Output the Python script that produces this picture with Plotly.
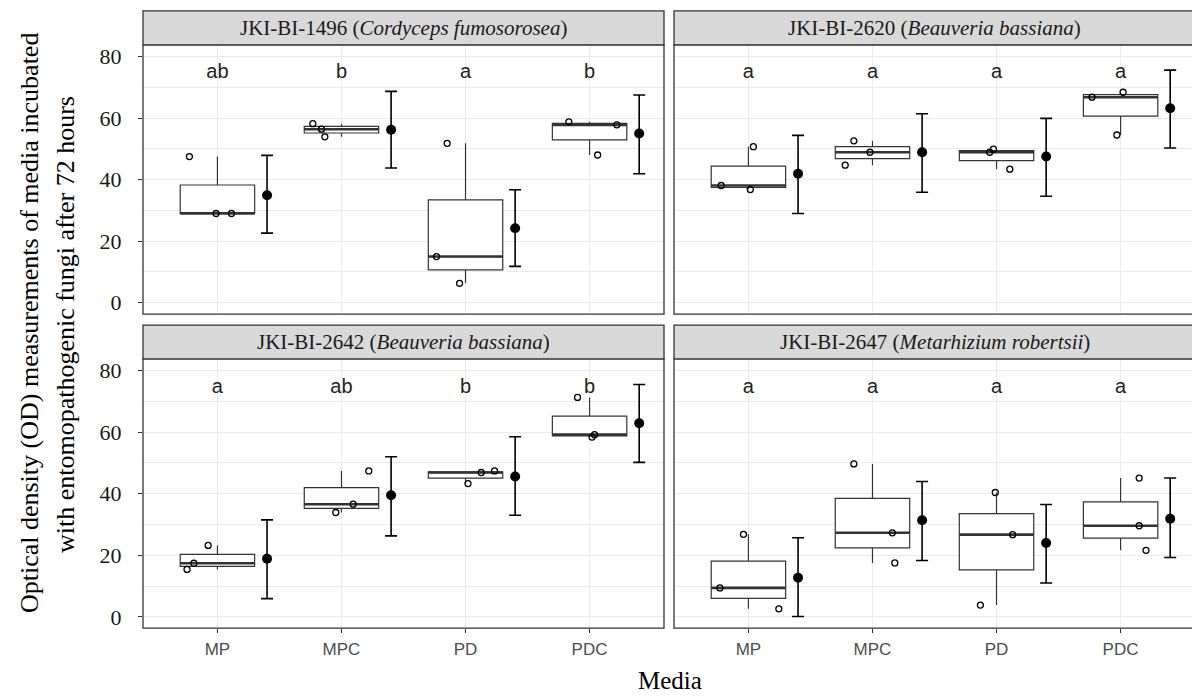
import numpy as np
import plotly.graph_objects as go

# ---- data -------------------------------------------------------------
media = ["MP", "MPC", "PD", "PDC"]

strain_ids = ["JKI-BI-1496", "JKI-BI-2620", "JKI-BI-2642", "JKI-BI-2647"]
species = ["Cordyceps fumosorosea", "Beauveria bassiana",
           "Beauveria bassiana", "Metarhizium robertsii"]

# OD replicate measurements (3 per medium), one list per strain
od_1496 = [[47.5, 29.0, 29.0], [58.2, 56.4, 53.9], [51.8, 15.0, 6.3], [58.8, 57.8, 48.0]]
od_2620 = [[50.7, 38.1, 36.8], [52.6, 48.9, 44.7], [49.9, 48.9, 43.4], [68.4, 66.8, 54.5]]
od_2642 = [[23.2, 17.4, 15.4], [47.4, 36.6, 33.9], [47.4, 46.9, 43.3], [71.3, 59.2, 58.4]]
od_2647 = [[26.8, 9.4, 2.6], [49.7, 27.3, 17.5], [40.4, 26.7, 3.8], [45.1, 29.6, 21.6]]

# horizontal jitter of the replicate points (category units)
jitter_1496 = [[-0.226, -0.011, 0.113], [-0.231, -0.161, -0.134], [-0.148, -0.234, -0.048], [-0.167, 0.22, 0.065]]
jitter_2620 = [[0.04, -0.22, 0.015], [-0.15, -0.02, -0.22], [-0.025, -0.055, 0.107], [0.02, -0.23, -0.03]]
jitter_2642 = [[-0.075, -0.19, -0.245], [0.22, 0.094, -0.046], [0.234, 0.126, 0.02], [-0.097, 0.04, 0.02]]
jitter_2647 = [[-0.04, -0.23, 0.245], [-0.15, 0.16, 0.18], [-0.01, 0.13, -0.13], [0.15, 0.15, 0.205]]

# estimated marginal means with confidence limits
mean_1496 = [34.9, 56.2, 24.2, 55.0]
lower_1496 = [22.6, 43.8, 11.8, 41.9]
upper_1496 = [47.9, 68.7, 36.7, 67.5]

mean_2620 = [41.9, 48.9, 47.5, 63.2]
lower_2620 = [29.0, 35.9, 34.6, 50.3]
upper_2620 = [54.4, 61.4, 59.9, 75.6]

mean_2642 = [18.9, 39.5, 45.6, 62.9]
lower_2642 = [5.9, 26.3, 33.0, 50.2]
upper_2642 = [31.5, 52.0, 58.5, 75.5]

mean_2647 = [12.7, 31.4, 24.0, 31.9]
lower_2647 = [0.1, 18.3, 11.0, 19.3]
upper_2647 = [25.7, 44.0, 36.5, 45.1]

# compact letter display
letters_1496 = ["ab", "b", "a", "b"]
letters_2620 = ["a", "a", "a", "a"]
letters_2642 = ["a", "ab", "b", "b"]
letters_2647 = ["a", "a", "a", "a"]
letter_y = 74.5

y_ticks = [0, 20, 40, 60, 80]

panels = [
    (od_1496, jitter_1496, mean_1496, lower_1496, upper_1496, letters_1496),
    (od_2620, jitter_2620, mean_2620, lower_2620, upper_2620, letters_2620),
    (od_2642, jitter_2642, mean_2642, lower_2642, upper_2642, letters_2642),
    (od_2647, jitter_2647, mean_2647, lower_2647, upper_2647, letters_2647),
]

# ---- styling ----------------------------------------------------------
W, H = 1192, 697
SERIF = "Liberation Serif, Times New Roman, serif"
SANS = "Liberation Sans, Arial, sans-serif"
DARK = "#333333"
GRID = "#EBEBEB"
STRIP_FILL = "#D9D9D9"

px_per_unit = 521 / 4.2
left_dom = [143 / W, 664 / W]
right_dom = [674 / W, 1.0]
right_range = [0.4, 0.4 + (W - 674) / px_per_unit]
top_dom = [(H - 314) / H, (H - 44) / H]
bot_dom = [(H - 629) / H, (H - 359) / H]
y_range = [-3.7, 83.8]
panel_h = 270
strip_h = 34

positions = np.arange(1, len(media) + 1)
box_half = 0.3
mean_offset = 0.4

fig = go.Figure()

for k, (od, jit, mu, lo, hi, lets) in enumerate(panels):
    suffix = "" if k == 0 else str(k + 1)
    xa, ya = "x" + suffix, "y" + suffix
    for i, pos in enumerate(positions):
        vals = np.array(od[i])
        fig.add_trace(go.Box(
            x=[pos] * len(vals), y=vals, xaxis=xa, yaxis=ya,
            width=2 * box_half, boxpoints=False, whiskerwidth=0,
            quartilemethod="inclusive", fillcolor="white",
            line=dict(color=DARK, width=1.2), showlegend=False,
            hoverinfo="skip"))
        med = float(np.median(vals))
        fig.add_trace(go.Scatter(
            x=[pos - box_half, pos + box_half], y=[med, med],
            xaxis=xa, yaxis=ya, mode="lines",
            line=dict(color=DARK, width=2.6), showlegend=False,
            hoverinfo="skip"))
        fig.add_trace(go.Scatter(
            x=pos + np.array(jit[i]), y=vals, xaxis=xa, yaxis=ya,
            mode="markers",
            marker=dict(symbol="circle-open", size=6, color="black",
                        line=dict(width=1.3, color="black")),
            showlegend=False, hoverinfo="skip"))
    mu_a, lo_a, hi_a = np.array(mu), np.array(lo), np.array(hi)
    fig.add_trace(go.Scatter(
        x=positions + mean_offset, y=mu_a, xaxis=xa, yaxis=ya,
        mode="markers", marker=dict(size=10, color="black"),
        error_y=dict(type="data", symmetric=False, array=hi_a - mu_a,
                     arrayminus=mu_a - lo_a, width=6, thickness=1.6,
                     color="black"),
        showlegend=False, hoverinfo="skip"))
    fig.add_trace(go.Scatter(
        x=positions, y=[letter_y] * len(positions), xaxis=xa, yaxis=ya,
        mode="text", text=lets, textposition="middle center",
        textfont=dict(family=SANS, size=20, color="#222222"),
        showlegend=False, hoverinfo="skip"))

# ---- axes -------------------------------------------------------------
def x_axis(domain, rng, anchor, bottom):
    return dict(
        domain=domain, range=rng, anchor=anchor,
        tickmode="array", tickvals=list(positions), ticktext=media,
        showticklabels=bottom, ticks="outside" if bottom else "",
        ticklen=4, tickwidth=1.1, tickcolor=DARK,
        tickfont=dict(family=SANS, size=17, color="#4D4D4D"),
        ticklabelstandoff=1,
        showgrid=True, gridcolor=GRID, gridwidth=1.1,
        zeroline=False, showline=False, fixedrange=True)


def y_axis(domain, anchor, left):
    return dict(
        domain=domain, range=y_range, anchor=anchor,
        tickmode="array", tickvals=y_ticks,
        showticklabels=left, ticks="outside" if left else "",
        ticklen=4, tickwidth=1.1, tickcolor=DARK,
        tickfont=dict(family=SERIF, size=22, color="#1A1A1A"),
        ticklabelstandoff=12,
        showgrid=True, gridcolor=GRID, gridwidth=1.1,
        minor=dict(tickvals=[10, 30, 50, 70], showgrid=True,
                   gridcolor=GRID, gridwidth=0.6),
        zeroline=False, showline=False, fixedrange=True)


layout_axes = dict(
    xaxis=x_axis(left_dom, [0.4, 4.6], "y", False),
    xaxis2=x_axis(right_dom, right_range, "y2", False),
    xaxis3=x_axis(left_dom, [0.4, 4.6], "y3", True),
    xaxis4=x_axis(right_dom, right_range, "y4", True),
    yaxis=y_axis(top_dom, "x", True),
    yaxis2=y_axis(top_dom, "x2", False),
    yaxis3=y_axis(bot_dom, "x3", True),
    yaxis4=y_axis(bot_dom, "x4", False),
)

# ---- panel borders, strips and strip labels ---------------------------
shapes, annotations = [], []
for k in range(4):
    suffix = "" if k == 0 else str(k + 1)
    x_end = 1.0 if k % 2 == 0 else 1.02
    shapes.append(dict(type="rect", xref="x" + suffix + " domain",
                       yref="y" + suffix + " domain",
                       x0=0, x1=x_end, y0=0, y1=1,
                       line=dict(color=DARK, width=1.3),
                       fillcolor="rgba(0,0,0,0)", layer="above"))
    shapes.append(dict(type="rect", xref="x" + suffix + " domain",
                       yref="y" + suffix + " domain",
                       x0=0, x1=x_end, y0=1, y1=1 + strip_h / panel_h,
                       line=dict(color=DARK, width=1.3),
                       fillcolor=STRIP_FILL, layer="above"))
    annotations.append(dict(
        xref="x" + suffix, yref="y" + suffix + " domain",
        x=2.5, y=1 + strip_h / 2 / panel_h,
        text=f"{strain_ids[k]} (<i>{species[k]}</i>)",
        showarrow=False, xanchor="center", yanchor="middle",
        font=dict(family=SERIF, size=21, color="#1A1A1A")))

# axis titles
annotations.append(dict(
    xref="paper", yref="paper", x=670 / W, y=0,
    text="Media", showarrow=False, xanchor="center", yanchor="bottom",
    font=dict(family=SERIF, size=25, color="black")))
annotations.append(dict(
    xref="paper", yref="paper", x=29 / W, y=(H - 323) / H,
    text="Optical density (OD) measurements of media incubated",
    textangle=-90, showarrow=False, xanchor="center", yanchor="middle",
    font=dict(family=SERIF, size=26, color="black")))
annotations.append(dict(
    xref="paper", yref="paper", x=65 / W, y=(H - 325) / H,
    text="with entomopathogenic fungi after 72 hours",
    textangle=-90, showarrow=False, xanchor="center", yanchor="middle",
    font=dict(family=SERIF, size=26, color="black")))

fig.update_layout(
    width=W, height=H, margin=dict(l=0, r=0, t=0, b=0),
    paper_bgcolor="white", plot_bgcolor="white",
    boxmode="overlay", showlegend=False,
    shapes=shapes, annotations=annotations, **layout_axes)

fig.write_html("out.html", config={"displayModeBar": False})
